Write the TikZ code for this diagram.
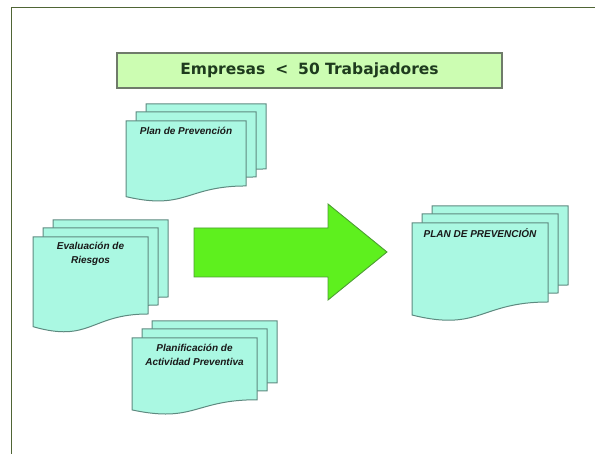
\documentclass[tikz,border=0pt]{standalone}
\usepackage{fontspec}
\setmainfont{Liberation Sans}
\newfontfamily\titulofont{DejaVu Sans}
\usepackage{xcolor}
\usetikzlibrary{positioning}
\definecolor{hojarelleno}{HTML}{AAF8E2}
\definecolor{hojaborde}{HTML}{5E8A80}
\definecolor{titulorelleno}{HTML}{CCFDB2}
\definecolor{tituloborde}{HTML}{6F7B6A}
\definecolor{titulotexto}{HTML}{1E3B1E}
\definecolor{flecharelleno}{HTML}{5EF01E}
\definecolor{flechaborde}{HTML}{4C9C32}
\definecolor{marcoverde}{HTML}{4F6535}
\tikzset{
    hoja/.style={fill=hojarelleno, draw=hojaborde, line width=1pt}, % cada pagina del documento
    etiqueta/.style={font=\bfseries\itshape\fontsize{10}{14}\selectfont, text=black!90, inner sep=1pt, align=center}, % textos de las hojas
    titulo/.style={fill=titulorelleno, draw=tituloborde, line width=1.4pt, minimum width=385pt, minimum height=35pt, text=titulotexto, font=\titulofont\bfseries\fontsize{15.5}{18}\selectfont},
}
\tikzstyle{flecha} = [fill=flecharelleno, draw=flechaborde, line width=0.9pt]
\tikzstyle{marco} = [draw=marcoverde, line width=1.8pt]

% una hoja con el borde inferior ondulado: x, y, ancho, alto
\newcommand{\hoja}[4]{%
    \filldraw[hoja] (#1,#2) -- ({#1+#3},#2) -- ({#1+#3},{#2+0.802*#4})
        .. controls ({#1+0.5*#3},{#2+0.802*#4}) and ({#1+0.5*#3},{#2+1.107*#4}) .. (#1,{#2+0.934*#4}) -- cycle;}
% tres hojas apiladas: nombre, x, y, ancho, alto
\newcommand{\pila}[5]{%
    \hoja{#2+20}{#3-17}{#4}{#5}
    \hoja{#2+10}{#3-9}{#4}{#5}
    \hoja{#2}{#3}{#4}{#5}
    \coordinate (#1) at ({#2+0.5*#4},#3);}

\begin{document}
\begin{tikzpicture}[x=1pt, y=-1pt]
    \useasboundingbox (0,0) rectangle (595,454);
    \draw[marco] (11.5,454) -- (11.5,7.5) -- (595,7.5);

    \node[titulo] (titulo) at (309.5,70.5) {Empresas\hspace{10pt}<\hspace{10pt}50 Trabajadores};

    % documentos de partida
    \pila{plan}{126}{121}{120}{81}
    \pila{eval}{33}{237}{115}{96}
    \pila{planif}{132}{338}{125}{77}
    \node[etiqueta, below=5pt of plan] (plan-texto) {Plan de Prevención};
    \node[etiqueta, below=4pt of eval] (eval-texto) {Evaluación de\\Riesgos};
    \node[etiqueta, below=5pt of planif] (planif-texto) {Planificación de\\Actividad Preventiva};

    % flecha
    \filldraw[flecha] (194,228) -- (328,228) -- (328,204) -- (387,252) -- (328,300) -- (328,277) -- (194,277) -- cycle;

    % documento resultante
    \pila{planprev}{412}{223}{136}{98.5}
    \node[etiqueta, below=4pt of planprev] (planprev-texto) {PLAN DE PREVENCIÓN};
\end{tikzpicture}
\end{document}
